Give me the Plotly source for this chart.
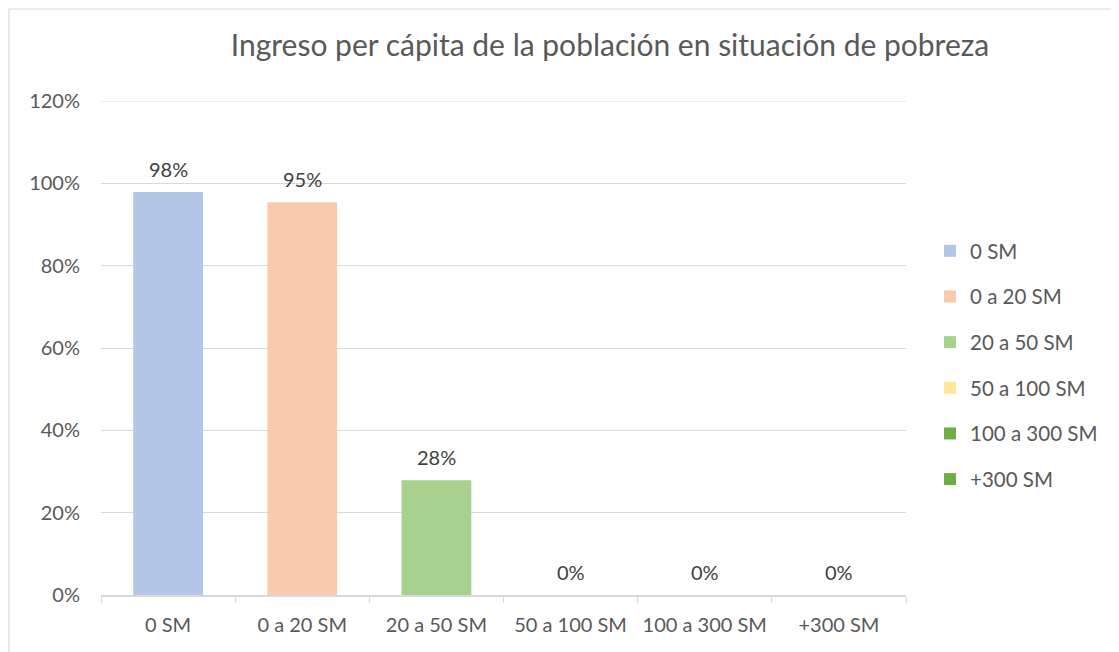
import plotly.graph_objects as go

categorias = ["0 SM", "0 a 20 SM", "20 a 50 SM", "50 a 100 SM", "100 a 300 SM", "+300 SM"]
valores = [0.979, 0.954, 0.279, 0.0, 0.0, 0.0]
colores = ["#b4c7e7", "#f8cbad", "#a9d18e", "#ffe699", "#70ad47", "#70ad47"]
y_max = 1.2

# la página añade 8px de margen al cuerpo; todo se desplaza en consecuencia
W, H = 1111, 644
ml, mt = 93, 93
pw, ph = 805, 494
mr, mb = W - ml - pw, H - mt - ph

FONT = "Lato, Open Sans, sans-serif"

fig = go.Figure()
for i, (cat, val, col) in enumerate(zip(categorias, valores, colores)):
    fig.add_trace(go.Bar(
        x=[cat], y=[val], name=cat,
        marker=dict(color=col, line=dict(width=0)),
        width=0.52,
        legendgroup=f"g{i}",
        hoverinfo="x+y",
    ))
    fig.add_annotation(
        x=cat, y=val, text=f"{val:.0%}", showarrow=False,
        yanchor="bottom", yshift=9,
        font=dict(family=FONT, size=20, color="#404040"),
    )

# línea de cuadrícula superior (plotly la omite en el borde del rango)
fig.add_shape(
    type="line", xref="paper", yref="y", x0=0, x1=1, y0=y_max, y1=y_max,
    line=dict(color="#d9d9d9", width=1.2), layer="below",
)

# marco exterior del gráfico
fig.add_shape(
    type="rect", xref="paper", yref="paper",
    x0=(1 - ml) / pw, x1=(W + 20 - ml) / pw,
    y0=-(mb + 20) / ph, y1=1 + (mt - 1) / ph,
    line=dict(color="#d9d9d9", width=1.2), layer="below",
)

fig.update_layout(
    width=W, height=H,
    margin=dict(l=ml, r=mr, t=mt, b=mb),
    paper_bgcolor="white", plot_bgcolor="white",
    barmode="overlay",
    title=dict(
        text="Ingreso per cápita de la población en situación de pobreza",
        x=(610 - 8) / W, xanchor="center", y=1 - (45 - 8) / H, yanchor="middle",
        font=dict(family=FONT, size=30, color="#595959"),
    ),
    font=dict(family=FONT, size=20, color="#595959"),
    legend=dict(
        x=(922 - ml) / pw, xanchor="left", y=1 - (223 - mt) / ph, yanchor="top",
        font=dict(size=20.5, color="#595959"),
        tracegroupgap=16, bgcolor="rgba(0,0,0,0)",
    ),
    showlegend=True,
)
fig.update_xaxes(
    type="category", showgrid=False,
    showline=True, linecolor="#d9d9d9", linewidth=1.5,
    ticks="outside", tickson="boundaries", ticklen=6, tickcolor="#d9d9d9",
    tickfont=dict(size=20, color="#595959"), ticklabelstandoff=11,
)
fig.update_yaxes(
    range=[0, y_max], dtick=0.2, tickformat=".0%",
    showgrid=True, gridcolor="#d9d9d9", gridwidth=1.2,
    zeroline=False, showline=False, ticks="",
    tickfont=dict(size=20, color="#595959"), ticklabelstandoff=20,
)

fig.write_html("out.html")
